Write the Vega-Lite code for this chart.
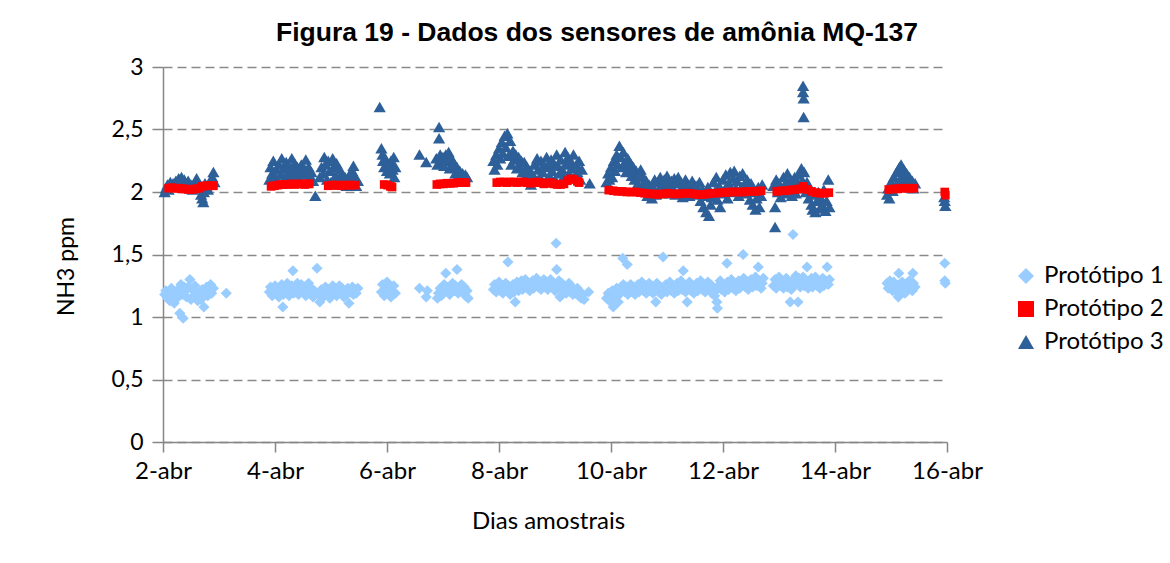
{
"$schema": "https://vega.github.io/schema/vega-lite/v6.json",
"width": 784, "height": 375,
"autosize": {"type": "none"},
"padding": {"left": 163, "top": 67, "right": 223, "bottom": 121},
"background": "#ffffff",
"title": {"text": "Figura 19 - Dados dos sensores de amônia MQ-137", "font": "Liberation Sans", "fontSize": 26.5, "fontWeight": "bold", "color": "#000000", "anchor": "middle", "dx": 42, "dy": 29, "baseline": "alphabetic", "offset": 18},
"config": {"view": {"stroke": null}, "axis": {"labelFont": "Lato", "titleFont": "Lato", "labelColor": "#000000", "titleColor": "#000000", "titleFontWeight": "normal"}},
"data": {"values": [
{"d":2.03,"v":2.0,"p":3},{"d":2.05,"v":2.03,"p":3},{"d":2.08,"v":2.06,"p":3},{"d":2.1,"v":2.02,"p":3},{"d":2.13,"v":2.08,"p":3},{"d":2.15,"v":2.05,"p":3},{"d":2.18,"v":2.07,"p":3},{"d":2.2,"v":2.04,"p":3},{"d":2.23,"v":2.09,"p":3},{"d":2.25,"v":2.06,"p":3},{"d":2.28,"v":2.11,"p":3},{"d":2.3,"v":2.08,"p":3},{"d":2.33,"v":2.12,"p":3},{"d":2.35,"v":2.05,"p":3},{"d":2.38,"v":2.1,"p":3},{"d":2.4,"v":2.07,"p":3},{"d":2.43,"v":2.04,"p":3},{"d":2.45,"v":2.09,"p":3},{"d":2.48,"v":2.03,"p":3},{"d":2.5,"v":2.06,"p":3},{"d":2.53,"v":2.02,"p":3},{"d":2.55,"v":2.05,"p":3},{"d":2.58,"v":2.08,"p":3},{"d":2.6,"v":2.11,"p":3},{"d":2.63,"v":2.06,"p":3},{"d":2.65,"v":2.03,"p":3},{"d":2.68,"v":1.98,"p":3},{"d":2.7,"v":1.95,"p":3},{"d":2.72,"v":1.92,"p":3},{"d":2.73,"v":2.0,"p":3},{"d":2.75,"v":2.07,"p":3},{"d":2.78,"v":2.04,"p":3},{"d":2.8,"v":2.02,"p":3},{"d":2.83,"v":2.06,"p":3},{"d":2.85,"v":2.09,"p":3},{"d":2.88,"v":2.12,"p":3},{"d":2.9,"v":2.16,"p":3},{"d":2.92,"v":2.08,"p":3},
{"d":3.9,"v":2.1,"p":3},{"d":3.92,"v":2.2,"p":3},{"d":3.95,"v":2.15,"p":3},{"d":3.97,"v":2.25,"p":3},{"d":4.0,"v":2.12,"p":3},{"d":4.02,"v":2.18,"p":3},{"d":4.05,"v":2.08,"p":3},{"d":4.07,"v":2.22,"p":3},{"d":4.1,"v":2.14,"p":3},{"d":4.12,"v":2.27,"p":3},{"d":4.15,"v":2.19,"p":3},{"d":4.17,"v":2.11,"p":3},{"d":4.2,"v":2.24,"p":3},{"d":4.22,"v":2.16,"p":3},{"d":4.25,"v":2.21,"p":3},{"d":4.27,"v":2.13,"p":3},{"d":4.3,"v":2.27,"p":3},{"d":4.32,"v":2.18,"p":3},{"d":4.35,"v":2.23,"p":3},{"d":4.37,"v":2.15,"p":3},{"d":4.4,"v":2.2,"p":3},{"d":4.42,"v":2.12,"p":3},{"d":4.45,"v":2.17,"p":3},{"d":4.47,"v":2.22,"p":3},{"d":4.5,"v":2.14,"p":3},{"d":4.52,"v":2.19,"p":3},{"d":4.55,"v":2.26,"p":3},{"d":4.57,"v":2.15,"p":3},{"d":4.6,"v":2.2,"p":3},{"d":4.62,"v":2.11,"p":3},{"d":4.65,"v":2.16,"p":3},{"d":4.68,"v":2.09,"p":3},{"d":4.72,"v":1.97,"p":3},
{"d":4.8,"v":2.12,"p":3},{"d":4.83,"v":2.2,"p":3},{"d":4.86,"v":2.15,"p":3},{"d":4.88,"v":2.28,"p":3},{"d":4.9,"v":2.22,"p":3},{"d":4.93,"v":2.1,"p":3},{"d":4.95,"v":2.25,"p":3},{"d":4.98,"v":2.17,"p":3},{"d":5.0,"v":2.08,"p":3},{"d":5.03,"v":2.27,"p":3},{"d":5.05,"v":2.2,"p":3},{"d":5.08,"v":2.13,"p":3},{"d":5.1,"v":2.23,"p":3},{"d":5.13,"v":2.06,"p":3},{"d":5.15,"v":2.18,"p":3},{"d":5.18,"v":2.11,"p":3},{"d":5.2,"v":2.15,"p":3},{"d":5.23,"v":2.08,"p":3},{"d":5.25,"v":2.12,"p":3},{"d":5.28,"v":2.05,"p":3},{"d":5.3,"v":2.1,"p":3},{"d":5.33,"v":2.14,"p":3},{"d":5.35,"v":2.07,"p":3},{"d":5.38,"v":2.17,"p":3},{"d":5.4,"v":2.21,"p":3},{"d":5.43,"v":2.12,"p":3},{"d":5.45,"v":2.05,"p":3},{"d":5.48,"v":2.09,"p":3},
{"d":5.87,"v":2.68,"p":3},{"d":5.9,"v":2.35,"p":3},{"d":5.92,"v":2.3,"p":3},{"d":5.93,"v":2.25,"p":3},{"d":5.95,"v":2.2,"p":3},{"d":5.97,"v":2.27,"p":3},{"d":6.0,"v":2.17,"p":3},{"d":6.02,"v":2.22,"p":3},{"d":6.05,"v":2.15,"p":3},{"d":6.07,"v":2.25,"p":3},{"d":6.1,"v":2.18,"p":3},{"d":6.12,"v":2.28,"p":3},{"d":6.15,"v":2.2,"p":3},{"d":6.13,"v":2.12,"p":3},
{"d":6.58,"v":2.3,"p":3},{"d":6.7,"v":2.24,"p":3},
{"d":6.88,"v":2.27,"p":3},{"d":6.9,"v":2.22,"p":3},{"d":6.93,"v":2.52,"p":3},{"d":6.93,"v":2.43,"p":3},{"d":6.95,"v":2.3,"p":3},{"d":6.97,"v":2.24,"p":3},{"d":7.0,"v":2.28,"p":3},{"d":7.02,"v":2.21,"p":3},{"d":7.05,"v":2.3,"p":3},{"d":7.07,"v":2.25,"p":3},{"d":7.1,"v":2.32,"p":3},{"d":7.12,"v":2.19,"p":3},{"d":7.15,"v":2.27,"p":3},{"d":7.17,"v":2.2,"p":3},{"d":7.2,"v":2.23,"p":3},{"d":7.22,"v":2.15,"p":3},{"d":7.25,"v":2.2,"p":3},{"d":7.28,"v":2.13,"p":3},{"d":7.3,"v":2.17,"p":3},{"d":7.33,"v":2.11,"p":3},{"d":7.35,"v":2.15,"p":3},{"d":7.38,"v":2.1,"p":3},{"d":7.4,"v":2.14,"p":3},{"d":7.43,"v":2.12,"p":3},
{"d":7.9,"v":2.25,"p":3},{"d":7.92,"v":2.18,"p":3},{"d":7.95,"v":2.3,"p":3},{"d":7.97,"v":2.22,"p":3},{"d":8.0,"v":2.35,"p":3},{"d":8.02,"v":2.27,"p":3},{"d":8.05,"v":2.4,"p":3},{"d":8.07,"v":2.31,"p":3},{"d":8.1,"v":2.45,"p":3},{"d":8.12,"v":2.36,"p":3},{"d":8.15,"v":2.47,"p":3},{"d":8.17,"v":2.29,"p":3},{"d":8.2,"v":2.41,"p":3},{"d":8.22,"v":2.22,"p":3},{"d":8.25,"v":2.33,"p":3},{"d":8.27,"v":2.26,"p":3},{"d":8.3,"v":2.3,"p":3},{"d":8.32,"v":2.19,"p":3},{"d":8.35,"v":2.28,"p":3},{"d":8.37,"v":2.21,"p":3},{"d":8.4,"v":2.25,"p":3},{"d":8.42,"v":2.16,"p":3},{"d":8.45,"v":2.24,"p":3},{"d":8.48,"v":2.13,"p":3},{"d":8.5,"v":2.2,"p":3},{"d":8.52,"v":2.09,"p":3},{"d":8.55,"v":2.17,"p":3},{"d":8.57,"v":2.06,"p":3},{"d":8.6,"v":2.14,"p":3},{"d":8.63,"v":2.22,"p":3},{"d":8.65,"v":2.1,"p":3},{"d":8.68,"v":2.27,"p":3},{"d":8.7,"v":2.18,"p":3},{"d":8.73,"v":2.12,"p":3},{"d":8.75,"v":2.25,"p":3},{"d":8.78,"v":2.16,"p":3},{"d":8.8,"v":2.22,"p":3},{"d":8.83,"v":2.08,"p":3},{"d":8.85,"v":2.28,"p":3},{"d":8.88,"v":2.2,"p":3},{"d":8.9,"v":2.13,"p":3},{"d":8.93,"v":2.26,"p":3},{"d":8.95,"v":2.17,"p":3},{"d":8.98,"v":2.23,"p":3},{"d":9.0,"v":2.1,"p":3},{"d":9.03,"v":2.3,"p":3},{"d":9.05,"v":2.21,"p":3},{"d":9.08,"v":2.15,"p":3},{"d":9.1,"v":2.26,"p":3},{"d":9.13,"v":2.18,"p":3},{"d":9.15,"v":2.12,"p":3},{"d":9.18,"v":2.32,"p":3},{"d":9.2,"v":2.22,"p":3},{"d":9.23,"v":2.28,"p":3},{"d":9.25,"v":2.15,"p":3},{"d":9.28,"v":2.25,"p":3},{"d":9.3,"v":2.19,"p":3},{"d":9.33,"v":2.3,"p":3},{"d":9.35,"v":2.12,"p":3},{"d":9.38,"v":2.22,"p":3},{"d":9.4,"v":2.16,"p":3},{"d":9.43,"v":2.25,"p":3},{"d":9.45,"v":2.1,"p":3},{"d":9.48,"v":2.18,"p":3},{"d":9.62,"v":2.07,"p":3},
{"d":9.92,"v":2.08,"p":3},{"d":9.95,"v":2.15,"p":3},{"d":9.97,"v":2.1,"p":3},{"d":10.0,"v":2.2,"p":3},{"d":10.02,"v":2.12,"p":3},{"d":10.05,"v":2.25,"p":3},{"d":10.07,"v":2.17,"p":3},{"d":10.1,"v":2.3,"p":3},{"d":10.12,"v":2.22,"p":3},{"d":10.15,"v":2.37,"p":3},{"d":10.17,"v":2.28,"p":3},{"d":10.2,"v":2.2,"p":3},{"d":10.22,"v":2.32,"p":3},{"d":10.25,"v":2.24,"p":3},{"d":10.27,"v":2.16,"p":3},{"d":10.3,"v":2.27,"p":3},{"d":10.32,"v":2.19,"p":3},{"d":10.35,"v":2.23,"p":3},{"d":10.37,"v":2.13,"p":3},{"d":10.4,"v":2.2,"p":3},{"d":10.42,"v":2.1,"p":3},{"d":10.45,"v":2.17,"p":3},{"d":10.48,"v":2.07,"p":3},{"d":10.5,"v":2.14,"p":3},{"d":10.53,"v":2.18,"p":3},{"d":10.55,"v":2.05,"p":3},{"d":10.58,"v":2.12,"p":3},{"d":10.6,"v":2.02,"p":3},{"d":10.63,"v":2.09,"p":3},{"d":10.65,"v":1.97,"p":3},{"d":10.68,"v":2.06,"p":3},{"d":10.7,"v":2.0,"p":3},{"d":10.73,"v":1.95,"p":3},{"d":10.75,"v":2.04,"p":3},{"d":10.78,"v":2.1,"p":3},{"d":10.8,"v":1.98,"p":3},{"d":10.83,"v":2.08,"p":3},{"d":10.85,"v":2.02,"p":3},{"d":10.88,"v":2.12,"p":3},{"d":10.9,"v":1.99,"p":3},{"d":10.93,"v":2.05,"p":3},{"d":10.95,"v":2.1,"p":3},{"d":10.98,"v":2.02,"p":3},{"d":11.0,"v":2.13,"p":3},{"d":11.03,"v":2.06,"p":3},{"d":11.05,"v":1.99,"p":3},{"d":11.08,"v":2.09,"p":3},{"d":11.1,"v":2.03,"p":3},{"d":11.13,"v":2.11,"p":3},{"d":11.15,"v":1.98,"p":3},{"d":11.18,"v":2.07,"p":3},{"d":11.2,"v":2.12,"p":3},{"d":11.23,"v":2.01,"p":3},{"d":11.25,"v":2.08,"p":3},{"d":11.28,"v":1.96,"p":3},{"d":11.3,"v":2.04,"p":3},{"d":11.33,"v":2.1,"p":3},{"d":11.35,"v":2.0,"p":3},{"d":11.38,"v":2.06,"p":3},{"d":11.4,"v":1.97,"p":3},{"d":11.43,"v":2.03,"p":3},{"d":11.45,"v":2.09,"p":3},{"d":11.48,"v":1.99,"p":3},{"d":11.5,"v":2.05,"p":3},
{"d":11.52,"v":2.05,"p":3},{"d":11.55,"v":1.98,"p":3},{"d":11.58,"v":2.08,"p":3},{"d":11.6,"v":1.93,"p":3},{"d":11.63,"v":2.02,"p":3},{"d":11.65,"v":1.88,"p":3},{"d":11.68,"v":1.97,"p":3},{"d":11.7,"v":1.84,"p":3},{"d":11.73,"v":2.04,"p":3},{"d":11.75,"v":1.81,"p":3},{"d":11.78,"v":1.9,"p":3},{"d":11.8,"v":1.96,"p":3},{"d":11.83,"v":2.08,"p":3},{"d":11.85,"v":2.0,"p":3},{"d":11.88,"v":2.12,"p":3},{"d":11.9,"v":1.94,"p":3},{"d":11.93,"v":2.05,"p":3},{"d":11.95,"v":1.88,"p":3},{"d":11.98,"v":1.99,"p":3},{"d":12.0,"v":2.1,"p":3},{"d":12.03,"v":2.02,"p":3},{"d":12.05,"v":2.14,"p":3},{"d":12.08,"v":1.95,"p":3},{"d":12.1,"v":2.07,"p":3},{"d":12.13,"v":2.16,"p":3},{"d":12.15,"v":2.0,"p":3},{"d":12.18,"v":2.11,"p":3},{"d":12.2,"v":2.17,"p":3},{"d":12.23,"v":2.03,"p":3},{"d":12.25,"v":2.09,"p":3},{"d":12.28,"v":1.97,"p":3},{"d":12.3,"v":2.13,"p":3},{"d":12.33,"v":2.04,"p":3},{"d":12.35,"v":2.15,"p":3},{"d":12.38,"v":2.06,"p":3},{"d":12.4,"v":1.99,"p":3},{"d":12.43,"v":2.1,"p":3},{"d":12.45,"v":2.02,"p":3},{"d":12.48,"v":1.94,"p":3},{"d":12.5,"v":2.07,"p":3},{"d":12.53,"v":1.9,"p":3},{"d":12.55,"v":2.0,"p":3},{"d":12.58,"v":1.86,"p":3},{"d":12.6,"v":1.95,"p":3},{"d":12.63,"v":2.04,"p":3},{"d":12.65,"v":1.88,"p":3},{"d":12.68,"v":1.97,"p":3},{"d":12.7,"v":2.06,"p":3},
{"d":12.9,"v":2.05,"p":3},{"d":12.93,"v":1.88,"p":3},{"d":12.93,"v":1.72,"p":3},{"d":12.95,"v":2.1,"p":3},{"d":12.98,"v":2.0,"p":3},{"d":13.0,"v":2.07,"p":3},{"d":13.03,"v":1.96,"p":3},{"d":13.05,"v":2.03,"p":3},{"d":13.08,"v":2.12,"p":3},{"d":13.1,"v":1.99,"p":3},{"d":13.13,"v":2.08,"p":3},{"d":13.15,"v":2.15,"p":3},{"d":13.18,"v":2.02,"p":3},{"d":13.2,"v":2.1,"p":3},{"d":13.23,"v":1.97,"p":3},{"d":13.25,"v":2.05,"p":3},{"d":13.28,"v":2.12,"p":3},{"d":13.3,"v":1.99,"p":3},{"d":13.33,"v":2.07,"p":3},{"d":13.35,"v":2.14,"p":3},{"d":13.38,"v":2.03,"p":3},{"d":13.4,"v":2.19,"p":3},{"d":13.42,"v":2.09,"p":3},{"d":13.43,"v":2.85,"p":3},{"d":13.43,"v":2.8,"p":3},{"d":13.44,"v":2.75,"p":3},{"d":13.44,"v":2.6,"p":3},{"d":13.45,"v":2.16,"p":3},{"d":13.48,"v":2.0,"p":3},{"d":13.5,"v":2.08,"p":3},{"d":13.53,"v":1.95,"p":3},{"d":13.55,"v":2.03,"p":3},{"d":13.58,"v":1.9,"p":3},{"d":13.6,"v":1.86,"p":3},{"d":13.63,"v":1.98,"p":3},{"d":13.65,"v":1.84,"p":3},{"d":13.68,"v":1.93,"p":3},{"d":13.7,"v":2.0,"p":3},{"d":13.73,"v":1.87,"p":3},{"d":13.75,"v":1.95,"p":3},{"d":13.78,"v":1.89,"p":3},{"d":13.8,"v":2.02,"p":3},{"d":13.83,"v":1.85,"p":3},{"d":13.85,"v":1.93,"p":3},{"d":13.88,"v":2.1,"p":3},{"d":13.9,"v":1.88,"p":3},
{"d":14.93,"v":1.98,"p":3},{"d":14.95,"v":2.03,"p":3},{"d":14.97,"v":1.95,"p":3},{"d":15.0,"v":2.08,"p":3},{"d":15.03,"v":2.01,"p":3},{"d":15.05,"v":2.12,"p":3},{"d":15.08,"v":2.05,"p":3},{"d":15.1,"v":2.16,"p":3},{"d":15.13,"v":2.08,"p":3},{"d":15.15,"v":2.2,"p":3},{"d":15.18,"v":2.22,"p":3},{"d":15.2,"v":2.13,"p":3},{"d":15.23,"v":2.18,"p":3},{"d":15.25,"v":2.1,"p":3},{"d":15.28,"v":2.15,"p":3},{"d":15.3,"v":2.06,"p":3},{"d":15.33,"v":2.12,"p":3},{"d":15.35,"v":2.04,"p":3},{"d":15.38,"v":2.09,"p":3},{"d":15.4,"v":2.03,"p":3},{"d":15.43,"v":2.07,"p":3},
{"d":15.96,"v":1.93,"p":3},{"d":15.97,"v":1.89,"p":3},{"d":15.95,"v":1.96,"p":3},
{"d":2.1,"v":2.03,"p":2},{"d":2.16,"v":2.035,"p":2},{"d":2.22,"v":2.03,"p":2},{"d":2.28,"v":2.03,"p":2},{"d":2.34,"v":2.025,"p":2},{"d":2.4,"v":2.025,"p":2},{"d":2.46,"v":2.02,"p":2},{"d":2.52,"v":2.02,"p":2},{"d":2.58,"v":2.025,"p":2},{"d":2.64,"v":2.03,"p":2},{"d":2.7,"v":2.045,"p":2},{"d":2.76,"v":2.05,"p":2},{"d":2.82,"v":2.05,"p":2},{"d":2.88,"v":2.05,"p":2},{"d":2.9,"v":2.05,"p":2},
{"d":3.93,"v":2.045,"p":2},{"d":3.99,"v":2.05,"p":2},{"d":4.05,"v":2.055,"p":2},{"d":4.11,"v":2.06,"p":2},{"d":4.17,"v":2.06,"p":2},{"d":4.23,"v":2.06,"p":2},{"d":4.29,"v":2.065,"p":2},{"d":4.35,"v":2.06,"p":2},{"d":4.41,"v":2.065,"p":2},{"d":4.47,"v":2.065,"p":2},{"d":4.53,"v":2.06,"p":2},{"d":4.59,"v":2.065,"p":2},{"d":4.61,"v":2.065,"p":2},
{"d":4.95,"v":2.05,"p":2},{"d":5.01,"v":2.055,"p":2},{"d":5.07,"v":2.055,"p":2},{"d":5.13,"v":2.055,"p":2},{"d":5.19,"v":2.05,"p":2},{"d":5.25,"v":2.055,"p":2},{"d":5.31,"v":2.055,"p":2},{"d":5.37,"v":2.055,"p":2},{"d":5.43,"v":2.055,"p":2},
{"d":5.95,"v":2.06,"p":2},{"d":6.01,"v":2.055,"p":2},{"d":6.06,"v":2.045,"p":2},{"d":6.09,"v":2.04,"p":2},
{"d":6.89,"v":2.06,"p":2},{"d":6.95,"v":2.065,"p":2},{"d":7.01,"v":2.065,"p":2},{"d":7.07,"v":2.07,"p":2},{"d":7.13,"v":2.07,"p":2},{"d":7.19,"v":2.07,"p":2},{"d":7.25,"v":2.075,"p":2},{"d":7.31,"v":2.075,"p":2},{"d":7.37,"v":2.075,"p":2},{"d":7.41,"v":2.075,"p":2},
{"d":7.96,"v":2.075,"p":2},{"d":8.02,"v":2.08,"p":2},{"d":8.08,"v":2.08,"p":2},{"d":8.14,"v":2.075,"p":2},{"d":8.2,"v":2.08,"p":2},{"d":8.26,"v":2.08,"p":2},{"d":8.32,"v":2.075,"p":2},{"d":8.38,"v":2.08,"p":2},{"d":8.44,"v":2.08,"p":2},{"d":8.5,"v":2.075,"p":2},{"d":8.56,"v":2.07,"p":2},{"d":8.62,"v":2.075,"p":2},{"d":8.68,"v":2.08,"p":2},{"d":8.74,"v":2.075,"p":2},{"d":8.8,"v":2.065,"p":2},{"d":8.86,"v":2.07,"p":2},{"d":8.92,"v":2.075,"p":2},{"d":8.98,"v":2.065,"p":2},{"d":9.04,"v":2.06,"p":2},{"d":9.1,"v":2.06,"p":2},{"d":9.16,"v":2.065,"p":2},{"d":9.22,"v":2.09,"p":2},{"d":9.28,"v":2.105,"p":2},{"d":9.34,"v":2.1,"p":2},{"d":9.4,"v":2.085,"p":2},{"d":9.43,"v":2.075,"p":2},
{"d":9.96,"v":2.015,"p":2},{"d":10.04,"v":2.01,"p":2},{"d":10.12,"v":2.005,"p":2},{"d":10.2,"v":2.005,"p":2},{"d":10.28,"v":2.0,"p":2},{"d":10.36,"v":2.0,"p":2},{"d":10.44,"v":2.0,"p":2},{"d":10.52,"v":1.995,"p":2},{"d":10.6,"v":1.99,"p":2},{"d":10.68,"v":1.985,"p":2},{"d":10.76,"v":1.985,"p":2},{"d":10.84,"v":1.98,"p":2},{"d":10.92,"v":1.985,"p":2},{"d":11.0,"v":1.99,"p":2},{"d":11.08,"v":1.985,"p":2},{"d":11.16,"v":1.985,"p":2},{"d":11.24,"v":1.985,"p":2},{"d":11.32,"v":1.99,"p":2},{"d":11.4,"v":1.99,"p":2},{"d":11.48,"v":1.985,"p":2},{"d":11.56,"v":1.98,"p":2},{"d":11.64,"v":1.98,"p":2},{"d":11.72,"v":1.985,"p":2},{"d":11.8,"v":1.99,"p":2},{"d":11.88,"v":1.99,"p":2},{"d":11.96,"v":1.995,"p":2},{"d":12.04,"v":1.995,"p":2},{"d":12.12,"v":2.0,"p":2},{"d":12.2,"v":2.0,"p":2},{"d":12.28,"v":2.0,"p":2},{"d":12.36,"v":2.0,"p":2},{"d":12.44,"v":2.005,"p":2},{"d":12.52,"v":2.005,"p":2},{"d":12.6,"v":2.005,"p":2},{"d":12.68,"v":2.01,"p":2},
{"d":12.96,"v":2.005,"p":2},{"d":13.04,"v":2.01,"p":2},{"d":13.12,"v":2.01,"p":2},{"d":13.2,"v":2.015,"p":2},{"d":13.28,"v":2.02,"p":2},{"d":13.36,"v":2.025,"p":2},{"d":13.43,"v":2.045,"p":2},{"d":13.5,"v":2.02,"p":2},{"d":13.58,"v":2.005,"p":2},{"d":13.66,"v":1.995,"p":2},{"d":13.74,"v":1.99,"p":2},{"d":13.82,"v":1.99,"p":2},{"d":13.89,"v":1.995,"p":2},
{"d":14.96,"v":2.02,"p":2},{"d":15.04,"v":2.025,"p":2},{"d":15.12,"v":2.025,"p":2},{"d":15.2,"v":2.03,"p":2},{"d":15.28,"v":2.03,"p":2},{"d":15.36,"v":2.03,"p":2},{"d":15.41,"v":2.03,"p":2},
{"d":15.96,"v":2.0,"p":2},{"d":15.97,"v":1.975,"p":2},
{"d":2.03,"v":1.18,"p":1},{"d":2.05,"v":1.21,"p":1},{"d":2.08,"v":1.15,"p":1},{"d":2.1,"v":1.2,"p":1},{"d":2.12,"v":1.13,"p":1},{"d":2.15,"v":1.23,"p":1},{"d":2.17,"v":1.17,"p":1},{"d":2.2,"v":1.11,"p":1},{"d":2.22,"v":1.2,"p":1},{"d":2.25,"v":1.15,"p":1},{"d":2.27,"v":1.22,"p":1},{"d":2.3,"v":1.03,"p":1},{"d":2.32,"v":1.26,"p":1},{"d":2.35,"v":1.18,"p":1},{"d":2.36,"v":0.99,"p":1},{"d":2.38,"v":1.24,"p":1},{"d":2.4,"v":1.21,"p":1},{"d":2.42,"v":1.16,"p":1},{"d":2.45,"v":1.24,"p":1},{"d":2.48,"v":1.3,"p":1},{"d":2.5,"v":1.14,"p":1},{"d":2.52,"v":1.22,"p":1},{"d":2.55,"v":1.17,"p":1},{"d":2.57,"v":1.25,"p":1},{"d":2.6,"v":1.2,"p":1},{"d":2.62,"v":1.13,"p":1},{"d":2.65,"v":1.18,"p":1},{"d":2.68,"v":1.14,"p":1},{"d":2.7,"v":1.22,"p":1},{"d":2.73,"v":1.08,"p":1},{"d":2.75,"v":1.2,"p":1},{"d":2.78,"v":1.24,"p":1},{"d":2.8,"v":1.17,"p":1},{"d":2.83,"v":1.21,"p":1},{"d":2.85,"v":1.26,"p":1},{"d":2.87,"v":1.19,"p":1},{"d":2.9,"v":1.23,"p":1},{"d":3.13,"v":1.19,"p":1},
{"d":3.9,"v":1.2,"p":1},{"d":3.92,"v":1.24,"p":1},{"d":3.95,"v":1.17,"p":1},{"d":3.97,"v":1.22,"p":1},{"d":4.0,"v":1.25,"p":1},{"d":4.02,"v":1.19,"p":1},{"d":4.05,"v":1.23,"p":1},{"d":4.07,"v":1.16,"p":1},{"d":4.1,"v":1.21,"p":1},{"d":4.12,"v":1.26,"p":1},{"d":4.14,"v":1.08,"p":1},{"d":4.15,"v":1.18,"p":1},{"d":4.17,"v":1.23,"p":1},{"d":4.2,"v":1.2,"p":1},{"d":4.22,"v":1.27,"p":1},{"d":4.25,"v":1.17,"p":1},{"d":4.27,"v":1.22,"p":1},{"d":4.3,"v":1.25,"p":1},{"d":4.32,"v":1.37,"p":1},{"d":4.33,"v":1.19,"p":1},{"d":4.35,"v":1.24,"p":1},{"d":4.37,"v":1.2,"p":1},{"d":4.4,"v":1.27,"p":1},{"d":4.42,"v":1.18,"p":1},{"d":4.45,"v":1.23,"p":1},{"d":4.47,"v":1.26,"p":1},{"d":4.5,"v":1.2,"p":1},{"d":4.52,"v":1.24,"p":1},{"d":4.55,"v":1.17,"p":1},{"d":4.57,"v":1.22,"p":1},{"d":4.6,"v":1.27,"p":1},{"d":4.62,"v":1.19,"p":1},{"d":4.65,"v":1.23,"p":1},{"d":4.68,"v":1.16,"p":1},{"d":4.7,"v":1.21,"p":1},{"d":4.75,"v":1.39,"p":1},{"d":4.78,"v":1.18,"p":1},{"d":4.8,"v":1.12,"p":1},{"d":4.83,"v":1.22,"p":1},{"d":4.86,"v":1.16,"p":1},{"d":4.88,"v":1.2,"p":1},{"d":4.9,"v":1.24,"p":1},{"d":4.93,"v":1.18,"p":1},{"d":4.95,"v":1.22,"p":1},{"d":4.98,"v":1.15,"p":1},{"d":5.0,"v":1.2,"p":1},{"d":5.03,"v":1.25,"p":1},{"d":5.05,"v":1.19,"p":1},{"d":5.08,"v":1.23,"p":1},{"d":5.1,"v":1.17,"p":1},{"d":5.13,"v":1.21,"p":1},{"d":5.15,"v":1.25,"p":1},{"d":5.18,"v":1.19,"p":1},{"d":5.2,"v":1.23,"p":1},{"d":5.23,"v":1.16,"p":1},{"d":5.25,"v":1.21,"p":1},{"d":5.28,"v":1.18,"p":1},{"d":5.3,"v":1.23,"p":1},{"d":5.32,"v":1.11,"p":1},{"d":5.35,"v":1.2,"p":1},{"d":5.38,"v":1.24,"p":1},{"d":5.4,"v":1.18,"p":1},{"d":5.43,"v":1.22,"p":1},{"d":5.45,"v":1.19,"p":1},{"d":5.48,"v":1.23,"p":1},
{"d":5.9,"v":1.2,"p":1},{"d":5.92,"v":1.26,"p":1},{"d":5.95,"v":1.17,"p":1},{"d":5.97,"v":1.23,"p":1},{"d":6.0,"v":1.28,"p":1},{"d":6.02,"v":1.19,"p":1},{"d":6.05,"v":1.24,"p":1},{"d":6.07,"v":1.16,"p":1},{"d":6.1,"v":1.21,"p":1},{"d":6.12,"v":1.25,"p":1},{"d":6.15,"v":1.19,"p":1},
{"d":6.58,"v":1.23,"p":1},{"d":6.7,"v":1.16,"p":1},{"d":6.72,"v":1.21,"p":1},{"d":6.9,"v":1.15,"p":1},{"d":6.92,"v":1.19,"p":1},{"d":6.95,"v":1.23,"p":1},{"d":6.97,"v":1.17,"p":1},{"d":7.0,"v":1.21,"p":1},{"d":7.02,"v":1.26,"p":1},{"d":7.05,"v":1.35,"p":1},{"d":7.07,"v":1.24,"p":1},{"d":7.1,"v":1.2,"p":1},{"d":7.12,"v":1.18,"p":1},{"d":7.15,"v":1.22,"p":1},{"d":7.17,"v":1.27,"p":1},{"d":7.2,"v":1.21,"p":1},{"d":7.22,"v":1.25,"p":1},{"d":7.25,"v":1.38,"p":1},{"d":7.27,"v":1.19,"p":1},{"d":7.3,"v":1.23,"p":1},{"d":7.33,"v":1.26,"p":1},{"d":7.35,"v":1.2,"p":1},{"d":7.38,"v":1.24,"p":1},{"d":7.4,"v":1.17,"p":1},{"d":7.43,"v":1.21,"p":1},{"d":7.45,"v":1.15,"p":1},
{"d":7.9,"v":1.22,"p":1},{"d":7.92,"v":1.26,"p":1},{"d":7.95,"v":1.2,"p":1},{"d":7.97,"v":1.24,"p":1},{"d":8.0,"v":1.28,"p":1},{"d":8.02,"v":1.21,"p":1},{"d":8.05,"v":1.25,"p":1},{"d":8.07,"v":1.19,"p":1},{"d":8.1,"v":1.23,"p":1},{"d":8.12,"v":1.27,"p":1},{"d":8.15,"v":1.21,"p":1},{"d":8.16,"v":1.44,"p":1},{"d":8.17,"v":1.25,"p":1},{"d":8.2,"v":1.18,"p":1},{"d":8.22,"v":1.22,"p":1},{"d":8.25,"v":1.26,"p":1},{"d":8.27,"v":1.2,"p":1},{"d":8.29,"v":1.12,"p":1},{"d":8.3,"v":1.24,"p":1},{"d":8.32,"v":1.28,"p":1},{"d":8.35,"v":1.21,"p":1},{"d":8.37,"v":1.25,"p":1},{"d":8.4,"v":1.29,"p":1},{"d":8.42,"v":1.22,"p":1},{"d":8.45,"v":1.26,"p":1},{"d":8.47,"v":1.3,"p":1},{"d":8.5,"v":1.23,"p":1},{"d":8.52,"v":1.27,"p":1},{"d":8.55,"v":1.21,"p":1},{"d":8.57,"v":1.25,"p":1},{"d":8.6,"v":1.29,"p":1},{"d":8.62,"v":1.23,"p":1},{"d":8.65,"v":1.27,"p":1},{"d":8.67,"v":1.31,"p":1},{"d":8.7,"v":1.24,"p":1},{"d":8.72,"v":1.28,"p":1},{"d":8.75,"v":1.22,"p":1},{"d":8.77,"v":1.26,"p":1},{"d":8.8,"v":1.3,"p":1},{"d":8.82,"v":1.24,"p":1},{"d":8.85,"v":1.28,"p":1},{"d":8.87,"v":1.22,"p":1},{"d":8.9,"v":1.26,"p":1},{"d":8.92,"v":1.3,"p":1},{"d":8.95,"v":1.24,"p":1},{"d":8.97,"v":1.27,"p":1},{"d":9.0,"v":1.21,"p":1},{"d":9.02,"v":1.59,"p":1},{"d":9.03,"v":1.38,"p":1},{"d":9.05,"v":1.25,"p":1},{"d":9.07,"v":1.29,"p":1},{"d":9.09,"v":1.16,"p":1},{"d":9.1,"v":1.23,"p":1},{"d":9.12,"v":1.27,"p":1},{"d":9.15,"v":1.21,"p":1},{"d":9.17,"v":1.25,"p":1},{"d":9.2,"v":1.19,"p":1},{"d":9.22,"v":1.23,"p":1},{"d":9.25,"v":1.27,"p":1},{"d":9.27,"v":1.2,"p":1},{"d":9.3,"v":1.24,"p":1},{"d":9.32,"v":1.18,"p":1},{"d":9.35,"v":1.22,"p":1},{"d":9.37,"v":1.19,"p":1},{"d":9.4,"v":1.23,"p":1},{"d":9.42,"v":1.17,"p":1},{"d":9.45,"v":1.2,"p":1},{"d":9.47,"v":1.15,"p":1},{"d":9.5,"v":1.18,"p":1},{"d":9.52,"v":1.14,"p":1},{"d":9.6,"v":1.2,"p":1},
{"d":9.92,"v":1.15,"p":1},{"d":9.95,"v":1.19,"p":1},{"d":9.97,"v":1.13,"p":1},{"d":10.0,"v":1.17,"p":1},{"d":10.02,"v":1.21,"p":1},{"d":10.04,"v":1.08,"p":1},{"d":10.05,"v":1.15,"p":1},{"d":10.08,"v":1.19,"p":1},{"d":10.1,"v":1.23,"p":1},{"d":10.13,"v":1.12,"p":1},{"d":10.15,"v":1.18,"p":1},{"d":10.18,"v":1.22,"p":1},{"d":10.21,"v":1.47,"p":1},{"d":10.22,"v":1.26,"p":1},{"d":10.25,"v":1.2,"p":1},{"d":10.27,"v":1.24,"p":1},{"d":10.29,"v":1.42,"p":1},{"d":10.3,"v":1.18,"p":1},{"d":10.33,"v":1.22,"p":1},{"d":10.35,"v":1.26,"p":1},{"d":10.38,"v":1.2,"p":1},{"d":10.4,"v":1.24,"p":1},{"d":10.43,"v":1.18,"p":1},{"d":10.45,"v":1.22,"p":1},{"d":10.48,"v":1.26,"p":1},{"d":10.5,"v":1.2,"p":1},{"d":10.53,"v":1.24,"p":1},{"d":10.55,"v":1.28,"p":1},{"d":10.58,"v":1.21,"p":1},{"d":10.6,"v":1.25,"p":1},{"d":10.63,"v":1.19,"p":1},{"d":10.65,"v":1.23,"p":1},{"d":10.68,"v":1.27,"p":1},{"d":10.7,"v":1.21,"p":1},{"d":10.73,"v":1.25,"p":1},{"d":10.75,"v":1.19,"p":1},{"d":10.78,"v":1.23,"p":1},{"d":10.8,"v":1.12,"p":1},{"d":10.82,"v":1.27,"p":1},{"d":10.85,"v":1.2,"p":1},{"d":10.88,"v":1.24,"p":1},{"d":10.9,"v":1.18,"p":1},{"d":10.93,"v":1.48,"p":1},{"d":10.95,"v":1.22,"p":1},{"d":10.98,"v":1.26,"p":1},{"d":11.0,"v":1.2,"p":1},{"d":11.03,"v":1.24,"p":1},{"d":11.05,"v":1.28,"p":1},{"d":11.08,"v":1.21,"p":1},{"d":11.1,"v":1.25,"p":1},{"d":11.13,"v":1.19,"p":1},{"d":11.15,"v":1.23,"p":1},{"d":11.18,"v":1.27,"p":1},{"d":11.2,"v":1.21,"p":1},{"d":11.23,"v":1.25,"p":1},{"d":11.25,"v":1.29,"p":1},{"d":11.27,"v":1.22,"p":1},{"d":11.29,"v":1.37,"p":1},{"d":11.3,"v":1.26,"p":1},{"d":11.33,"v":1.2,"p":1},{"d":11.36,"v":1.12,"p":1},{"d":11.38,"v":1.24,"p":1},{"d":11.4,"v":1.28,"p":1},{"d":11.43,"v":1.21,"p":1},{"d":11.45,"v":1.25,"p":1},{"d":11.48,"v":1.19,"p":1},{"d":11.5,"v":1.23,"p":1},
{"d":11.53,"v":1.27,"p":1},{"d":11.55,"v":1.21,"p":1},{"d":11.58,"v":1.25,"p":1},{"d":11.6,"v":1.29,"p":1},{"d":11.63,"v":1.22,"p":1},{"d":11.65,"v":1.26,"p":1},{"d":11.68,"v":1.2,"p":1},{"d":11.7,"v":1.24,"p":1},{"d":11.73,"v":1.28,"p":1},{"d":11.75,"v":1.22,"p":1},{"d":11.78,"v":1.26,"p":1},{"d":11.8,"v":1.19,"p":1},{"d":11.83,"v":1.23,"p":1},{"d":11.85,"v":1.17,"p":1},{"d":11.87,"v":1.21,"p":1},{"d":11.89,"v":1.12,"p":1},{"d":11.9,"v":1.07,"p":1},{"d":11.92,"v":1.25,"p":1},{"d":11.95,"v":1.29,"p":1},{"d":11.97,"v":1.22,"p":1},{"d":12.0,"v":1.26,"p":1},{"d":12.03,"v":1.2,"p":1},{"d":12.05,"v":1.24,"p":1},{"d":12.07,"v":1.43,"p":1},{"d":12.08,"v":1.28,"p":1},{"d":12.1,"v":1.22,"p":1},{"d":12.13,"v":1.26,"p":1},{"d":12.15,"v":1.3,"p":1},{"d":12.18,"v":1.23,"p":1},{"d":12.2,"v":1.27,"p":1},{"d":12.23,"v":1.21,"p":1},{"d":12.25,"v":1.25,"p":1},{"d":12.28,"v":1.29,"p":1},{"d":12.3,"v":1.23,"p":1},{"d":12.33,"v":1.27,"p":1},{"d":12.36,"v":1.5,"p":1},{"d":12.37,"v":1.31,"p":1},{"d":12.4,"v":1.24,"p":1},{"d":12.43,"v":1.28,"p":1},{"d":12.45,"v":1.22,"p":1},{"d":12.48,"v":1.26,"p":1},{"d":12.5,"v":1.3,"p":1},{"d":12.53,"v":1.24,"p":1},{"d":12.55,"v":1.28,"p":1},{"d":12.58,"v":1.32,"p":1},{"d":12.6,"v":1.25,"p":1},{"d":12.63,"v":1.4,"p":1},{"d":12.65,"v":1.29,"p":1},{"d":12.68,"v":1.23,"p":1},{"d":12.7,"v":1.27,"p":1},{"d":12.72,"v":1.31,"p":1},
{"d":12.9,"v":1.25,"p":1},{"d":12.93,"v":1.3,"p":1},{"d":12.95,"v":1.23,"p":1},{"d":12.98,"v":1.28,"p":1},{"d":13.0,"v":1.32,"p":1},{"d":13.03,"v":1.25,"p":1},{"d":13.05,"v":1.29,"p":1},{"d":13.08,"v":1.23,"p":1},{"d":13.1,"v":1.27,"p":1},{"d":13.13,"v":1.31,"p":1},{"d":13.15,"v":1.24,"p":1},{"d":13.18,"v":1.28,"p":1},{"d":13.2,"v":1.12,"p":1},{"d":13.22,"v":1.22,"p":1},{"d":13.25,"v":1.66,"p":1},{"d":13.26,"v":1.3,"p":1},{"d":13.28,"v":1.26,"p":1},{"d":13.3,"v":1.33,"p":1},{"d":13.33,"v":1.27,"p":1},{"d":13.34,"v":1.12,"p":1},{"d":13.36,"v":1.31,"p":1},{"d":13.38,"v":1.24,"p":1},{"d":13.4,"v":1.28,"p":1},{"d":13.43,"v":1.32,"p":1},{"d":13.45,"v":1.25,"p":1},{"d":13.48,"v":1.29,"p":1},{"d":13.5,"v":1.4,"p":1},{"d":13.52,"v":1.23,"p":1},{"d":13.55,"v":1.27,"p":1},{"d":13.58,"v":1.31,"p":1},{"d":13.6,"v":1.24,"p":1},{"d":13.63,"v":1.28,"p":1},{"d":13.65,"v":1.32,"p":1},{"d":13.68,"v":1.25,"p":1},{"d":13.7,"v":1.29,"p":1},{"d":13.73,"v":1.23,"p":1},{"d":13.75,"v":1.27,"p":1},{"d":13.78,"v":1.31,"p":1},{"d":13.8,"v":1.25,"p":1},{"d":13.83,"v":1.29,"p":1},{"d":13.86,"v":1.4,"p":1},{"d":13.88,"v":1.26,"p":1},{"d":13.9,"v":1.3,"p":1},
{"d":14.93,"v":1.27,"p":1},{"d":14.95,"v":1.23,"p":1},{"d":14.98,"v":1.29,"p":1},{"d":15.0,"v":1.25,"p":1},{"d":15.03,"v":1.21,"p":1},{"d":15.05,"v":1.28,"p":1},{"d":15.08,"v":1.24,"p":1},{"d":15.1,"v":1.2,"p":1},{"d":15.13,"v":1.16,"p":1},{"d":15.14,"v":1.35,"p":1},{"d":15.15,"v":1.26,"p":1},{"d":15.18,"v":1.22,"p":1},{"d":15.2,"v":1.28,"p":1},{"d":15.23,"v":1.24,"p":1},{"d":15.25,"v":1.19,"p":1},{"d":15.28,"v":1.27,"p":1},{"d":15.3,"v":1.23,"p":1},{"d":15.33,"v":1.29,"p":1},{"d":15.35,"v":1.25,"p":1},{"d":15.38,"v":1.21,"p":1},{"d":15.39,"v":1.35,"p":1},{"d":15.4,"v":1.27,"p":1},{"d":15.43,"v":1.24,"p":1},
{"d":15.96,"v":1.43,"p":1},{"d":15.96,"v":1.29,"p":1},{"d":15.97,"v":1.27,"p":1}
]},
"encoding": {
"x": {"field": "d", "type": "quantitative", "title": "Dias amostrais",
 "scale": {"domain": [2, 16], "nice": false, "zero": false},
 "axis": {"values": [2,4,6,8,10,12,14,16], "labelExpr": "datum.value + '-abr'", "grid": false, "domainColor": "#868686", "domainWidth": 1.5, "tickColor": "#868686", "tickWidth": 1.5, "tickSize": 10, "labelFontSize": 24, "labelPadding": 7, "labelFlush": false, "titleFontSize": 24, "titleBaseline": "alphabetic", "titleY": 86, "titleX": 385}},
"y": {"field": "v", "type": "quantitative", "title": "NH3 ppm",
 "scale": {"domain": [0, 3], "nice": false},
 "axis": {"values": [0,0.5,1,1.5,2,2.5,3], "labelExpr": "replace(format(datum.value, '~g'), '.', ',')", "grid": true, "gridDash": [9,5], "gridColor": "#8a8a8a", "gridWidth": 1.6, "domainColor": "#868686", "domainWidth": 1.5, "tickColor": "#868686", "tickWidth": 1.5, "tickSize": 11, "labelFontSize": 23, "labelPadding": 9, "labelFlush": false, "titleFontSize": 23, "titleAngle": -90, "titleBaseline": "middle", "titleAlign": "center", "titleX": -97, "titleY": 199}},
"color": {"field": "p", "type": "nominal",
 "scale": {"domain": [1,2,3], "range": ["#99CCFF", "#FF0000", "#2D5F99"]},
 "legend": {"orient": "none", "legendX": 851, "legendY": 197, "title": null, "labelExpr": "'Protótipo ' + datum.label", "labelFont": "Lato", "labelFontSize": 24, "labelColor": "#000000", "symbolSize": 256, "rowPadding": 9, "labelOffset": 6, "symbolStrokeWidth": 0, "padding": 0}},
"shape": {"field": "p", "type": "nominal",
 "scale": {"domain": [1,2,3], "range": ["diamond", "square", "triangle-up"]}}
},
"layer": [
 {"transform": [{"filter": "datum.p == 3"}], "mark": {"type": "point", "filled": true, "opacity": 1, "strokeWidth": 0, "size": 150}},
 {"transform": [{"filter": "datum.p == 2"}], "mark": {"type": "point", "filled": true, "opacity": 1, "strokeWidth": 0, "size": 75}},
 {"transform": [{"filter": "datum.p == 1"}], "mark": {"type": "point", "filled": true, "opacity": 1, "strokeWidth": 0, "size": 125}}
]
}
